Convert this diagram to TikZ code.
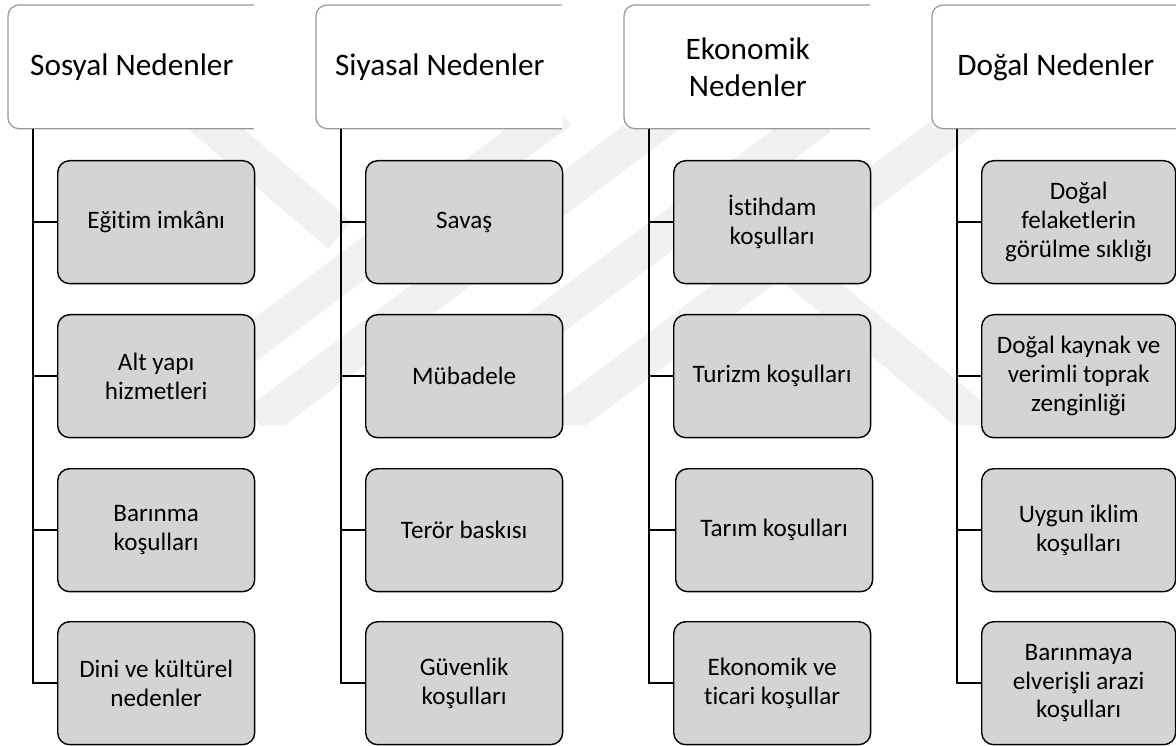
\documentclass[tikz,border=0pt]{standalone}
\usepackage{fontspec}
\setmainfont{Carlito}[Ligatures=NoCommon]
\begin{document}
\begin{tikzpicture}[x=0.02cm,y=-0.02cm,
  wm/.style={draw=black!6, line width=0.72cm},
  hdr/.style={draw=none, fill=white, minimum width=4.94cm, minimum height=2.46cm,
    anchor=north west, align=center, inner sep=0pt,
    font=\fontsize{17.8}{21}\selectfont},
  hdrline/.style={draw=black!40, line width=0.7pt, rounded corners=0.22cm},
  kid/.style={draw=black, fill=black!17, rounded corners=0.24cm,
    minimum width=3.94cm, minimum height=2.46cm, anchor=north west,
    align=center, inner sep=0pt, line width=0.8pt,
    font=\fontsize{14.3}{16.4}\selectfont},
  conn/.style={draw=black, line width=1.4pt}]
\useasboundingbox (0,0) rectangle (1176,746);
\fill[white] (0,0) rectangle (1176,746);
% watermark
\begin{scope}
  \clip (0,0) rectangle (1176,424);
  \foreach \c/\xa/\xb in {531/200/560, 616/258/690, 732/410/820, 842/560/1000}
    \draw[wm] (\xa,{\c-0.75*\xa}) -- (\xb,{\c-0.75*\xb});
  \draw[wm] (100,30) -- (340,235);
  \draw[wm] (773,250) -- (1000,440);
\end{scope}
% headers
\node[hdr] (h1) at (8,5) {Sosyal Nedenler};
\node[hdr] (h2) at (316,5) {Siyasal Nedenler};
\node[hdr] (h3) at (624,5) {Ekonomik\\Nedenler};
\node[hdr] (h4) at (932,5) {Doğal Nedenler};
\foreach \h in {h1,h2,h3,h4}
  \draw[hdrline] ([xshift=-1pt]\h.north east) -- (\h.north west) -- (\h.south west) -- ([xshift=-1pt]\h.south east);
% column 1
\node[kid] (c11) at (57,160) {Eğitim imkânı};
\node[kid] (c12) at (57,314) {Alt yapı\\hizmetleri};
\node[kid] (c13) at (57,468) {Barınma\\koşulları};
\node[kid] (c14) at (57,621) {Dini ve kültürel\\nedenler};
% column 2
\node[kid] (c21) at (365,160) {Savaş};
\node[kid] (c22) at (365,314) {Mübadele};
\node[kid] (c23) at (365,468) {Terör baskısı};
\node[kid] (c24) at (365,621) {Güvenlik\\koşulları};
% column 3
\node[kid] (c31) at (673,160) {İstihdam\\koşulları};
\node[kid] (c32) at (673,314) {Turizm koşulları};
\node[kid] (c33) at (675,468) {Tarım koşulları};
\node[kid] (c34) at (673,621) {Ekonomik ve\\ticari koşullar};
% column 4
\node[kid, minimum width=3.88cm] (c41) at (981,160) {Doğal\\felaketlerin\\görülme sıklığı};
\node[kid, minimum width=3.88cm] (c42) at (981,314) {Doğal kaynak ve\\verimli toprak\\zenginliği};
\node[kid, minimum width=3.88cm] (c43) at (981,468) {Uygun iklim\\koşulları};
\node[kid, minimum width=3.88cm] (c44) at (981,621) {Barınmaya\\elverişli arazi\\koşulları};
% connectors
\foreach \k in {1,2,3,4}{
  \coordinate (v\k) at ([xshift=0.5cm]h\k.south west);
  \draw[conn] (v\k) |- (c\k4.west);
  \foreach \i in {1,2,3}
    \draw[conn] (v\k |- c\k\i.west) -- (c\k\i.west);
}
\end{tikzpicture}
\end{document}
